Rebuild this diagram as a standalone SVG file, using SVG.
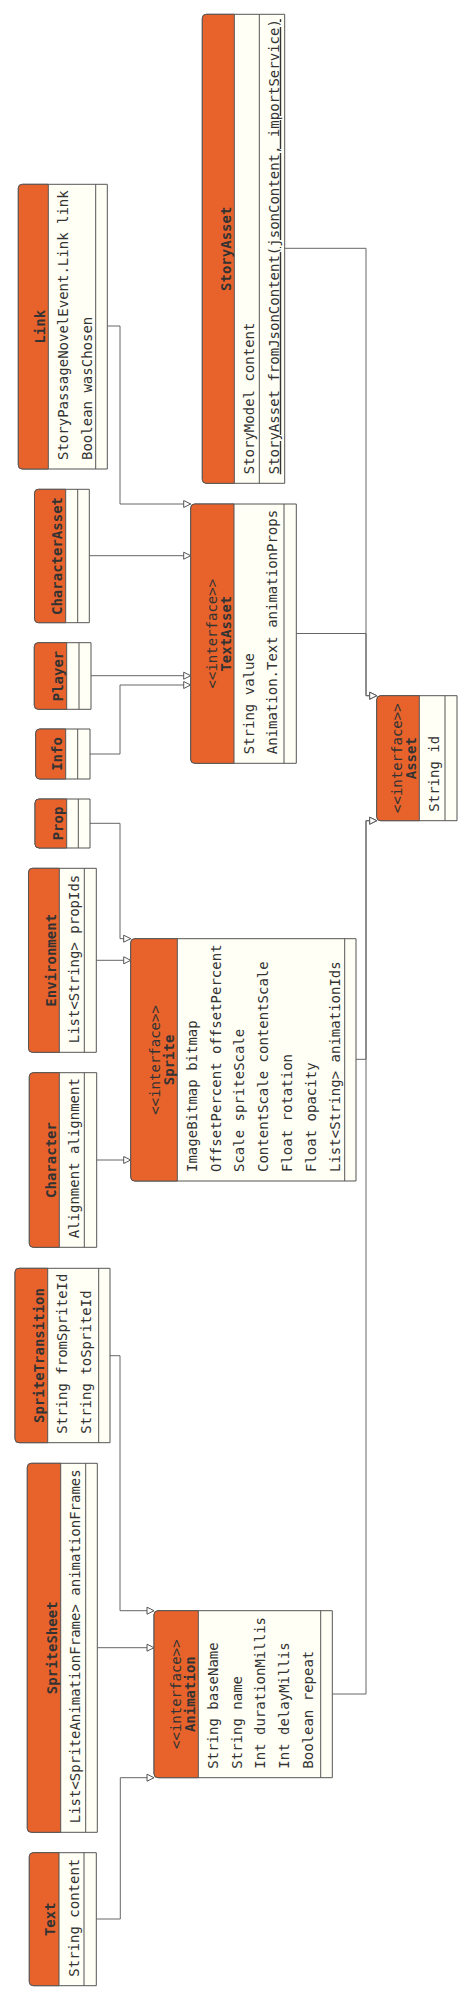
<svg xmlns="http://www.w3.org/2000/svg" width="471" height="2001" viewBox="0 0 471 2001">
<style>
.box{fill:#fffff5;stroke:#555;stroke-width:1}
.hd{fill:#e8632b;stroke:#555;stroke-width:1}
.dv{stroke:#555;stroke-width:1;fill:none}
.t{font-family:"DejaVu Sans Mono","Liberation Mono",monospace;font-size:14px;fill:#333}
.b{font-weight:bold}
.m{text-anchor:middle}
.u{text-decoration:underline}
.edge{fill:none;stroke:#666;stroke-width:1;marker-end:url(#tri)}
</style>
<defs>
<marker id="tri" markerUnits="userSpaceOnUse" markerWidth="10" markerHeight="10" refX="8" refY="4.5" orient="auto">
<path d="M1,1 L8,4.5 L1,8 Z" fill="#fff" stroke="#555" stroke-width="1"/>
</marker>
</defs>
<rect width="471" height="2001" fill="#fff"/>
<g id="connectors">
<path class="edge" d="M107.3,326 H120 V504 H190.7"/>
<path class="edge" d="M89.3,555.7 H190.7"/>
<path class="edge" d="M91,675.7 H190.7"/>
<path class="edge" d="M90,754 H120 V685 H190.7"/>
<path class="edge" d="M284.7,248.3 H366 V695.7 H376.7"/>
<path class="edge" d="M296.3,633.5 H366 V695.7 H376.7"/>
<path class="edge" d="M356,1059.3 H366 V820.7 H376.7"/>
<path class="edge" d="M332.3,1694 H366 V820.7 H376.7"/>
<path class="edge" d="M90,823.3 H120 V938.7 H130.7"/>
<path class="edge" d="M96.3,960.3 H130.7"/>
<path class="edge" d="M96.7,1160 H130.7"/>
<path class="edge" d="M110,1355.7 H120 V1610.7 H154"/>
<path class="edge" d="M97.3,1647.7 H154"/>
<path class="edge" d="M96.3,1919 H120.3 V1777.7 H154"/>
</g>

<g id="StoryAsset">
<path class="box" d="M206.3,14.3 H284.7 V483.3 H206.3 Q202.3,483.3 202.3,479.3 V18.3 Q202.3,14.3 206.3,14.3 Z"/>
<path class="hd" d="M234.3,14.3 H206.3 Q202.3,14.3 202.3,18.3 V479.3 Q202.3,483.3 206.3,483.3 H234.3 Z"/>
<line class="dv" x1="259.3" y1="14.3" x2="259.3" y2="483.3"/>
<text class="t b m" transform="translate(230.5,248.8) rotate(-90)">StoryAsset</text>
<text class="t" transform="translate(253.8,474.3) rotate(-90)">StoryModel content</text>
<text class="t u" transform="translate(278.8,474.3) rotate(-90)">StoryAsset fromJsonContent(jsonContent, importService)</text>
</g>

<g id="Link">
<path class="box" d="M22.3,184.3 H107.3 V469 H22.3 Q18.3,469 18.3,465 V188.3 Q18.3,184.3 22.3,184.3 Z"/>
<path class="hd" d="M48.3,184.3 H22.3 Q18.3,184.3 18.3,188.3 V465 Q18.3,469 22.3,469 H48.3 Z"/>
<line class="dv" x1="95.7" y1="184.3" x2="95.7" y2="469"/>
<text class="t b m" transform="translate(44.5,326.7) rotate(-90)">Link</text>
<text class="t" transform="translate(67.8,460) rotate(-90)">StoryPassageNovelEvent.Link link</text>
<text class="t" transform="translate(91.6,460) rotate(-90)">Boolean wasChosen</text>
</g>

<g id="CharacterAsset">
<path class="box" d="M38.5,489.3 H89.3 V622.7 H38.5 Q34.5,622.7 34.5,618.7 V493.3 Q34.5,489.3 38.5,489.3 Z"/>
<path class="hd" d="M65.7,489.3 H38.5 Q34.5,489.3 34.5,493.3 V618.7 Q34.5,622.7 38.5,622.7 H65.7 Z"/>
<line class="dv" x1="77.7" y1="489.3" x2="77.7" y2="622.7"/>
<text class="t b m" transform="translate(61.9,556) rotate(-90)">CharacterAsset</text>
</g>

<g id="Player">
<path class="box" d="M38.3,642.7 H91 V709.3 H38.3 Q34.3,709.3 34.3,705.3 V646.7 Q34.3,642.7 38.3,642.7 Z"/>
<path class="hd" d="M66.7,642.7 H38.3 Q34.3,642.7 34.3,646.7 V705.3 Q34.3,709.3 38.3,709.3 H66.7 Z"/>
<line class="dv" x1="79" y1="642.7" x2="79" y2="709.3"/>
<text class="t b m" transform="translate(62.9,676) rotate(-90)">Player</text>
</g>

<g id="Info">
<path class="box" d="M39.7,729 H90 V779 H39.7 Q35.7,779 35.7,775 V733 Q35.7,729 39.7,729 Z"/>
<path class="hd" d="M65.7,729 H39.7 Q35.7,729 35.7,733 V775 Q35.7,779 39.7,779 H65.7 Z"/>
<line class="dv" x1="77.7" y1="729" x2="77.7" y2="779"/>
<text class="t b m" transform="translate(61.9,754) rotate(-90)">Info</text>
</g>

<g id="Prop">
<path class="box" d="M39,799 H90 V848 H39 Q35,848 35,844 V803 Q35,799 39,799 Z"/>
<path class="hd" d="M66.7,799 H39 Q35,799 35,803 V844 Q35,848 39,848 H66.7 Z"/>
<line class="dv" x1="78.3" y1="799" x2="78.3" y2="848"/>
<text class="t b m" transform="translate(62.9,823.5) rotate(-90)">Prop</text>
</g>

<g id="TextAsset">
<path class="box" d="M194.7,504 H296.3 V763.3 H194.7 Q190.7,763.3 190.7,759.3 V508 Q190.7,504 194.7,504 Z"/>
<path class="hd" d="M234,504 H194.7 Q190.7,504 190.7,508 V759.3 Q190.7,763.3 194.7,763.3 H234 Z"/>
<line class="dv" x1="284" y1="504" x2="284" y2="763.3"/>
<text class="t m" transform="translate(216.5,633.7) rotate(-90)">&lt;&lt;interface&gt;&gt;</text>
<text class="t b m" transform="translate(230.5,633.7) rotate(-90)">TextAsset</text>
<text class="t" transform="translate(253.5,754.3) rotate(-90)">String value</text>
<text class="t" transform="translate(277.3,754.3) rotate(-90)">Animation.Text animationProps</text>
</g>

<g id="Asset">
<path class="box" d="M380.7,695.7 H457 V820.7 H380.7 Q376.7,820.7 376.7,816.7 V699.7 Q376.7,695.7 380.7,695.7 Z"/>
<path class="hd" d="M419.3,695.7 H380.7 Q376.7,695.7 376.7,699.7 V816.7 Q376.7,820.7 380.7,820.7 H419.3 Z"/>
<line class="dv" x1="445" y1="695.7" x2="445" y2="820.7"/>
<text class="t m" transform="translate(401.8,758.2) rotate(-90)">&lt;&lt;interface&gt;&gt;</text>
<text class="t b m" transform="translate(415.8,758.2) rotate(-90)">Asset</text>
<text class="t" transform="translate(438.8,811.7) rotate(-90)">String id</text>
</g>

<g id="Environment">
<path class="box" d="M32.5,868.3 H96.3 V1052.3 H32.5 Q28.5,1052.3 28.5,1048.3 V872.3 Q28.5,868.3 32.5,868.3 Z"/>
<path class="hd" d="M59.3,868.3 H32.5 Q28.5,868.3 28.5,872.3 V1048.3 Q28.5,1052.3 32.5,1052.3 H59.3 Z"/>
<line class="dv" x1="84.3" y1="868.3" x2="84.3" y2="1052.3"/>
<text class="t b m" transform="translate(55.5,960.3) rotate(-90)">Environment</text>
<text class="t" transform="translate(78.8,1043.3) rotate(-90)">List&lt;String&gt; propIds</text>
</g>

<g id="Sprite">
<path class="box" d="M134.7,938.7 H356 V1181 H134.7 Q130.7,1181 130.7,1177 V942.7 Q130.7,938.7 134.7,938.7 Z"/>
<path class="hd" d="M177.3,938.7 H134.7 Q130.7,938.7 130.7,942.7 V1177 Q130.7,1181 134.7,1181 H177.3 Z"/>
<line class="dv" x1="344.7" y1="938.7" x2="344.7" y2="1181"/>
<text class="t m" transform="translate(159.8,1059.9) rotate(-90)">&lt;&lt;interface&gt;&gt;</text>
<text class="t b m" transform="translate(173.8,1059.9) rotate(-90)">Sprite</text>
<text class="t" transform="translate(196.8,1172) rotate(-90)">ImageBitmap bitmap</text>
<text class="t" transform="translate(220.6,1172) rotate(-90)">OffsetPercent offsetPercent</text>
<text class="t" transform="translate(244.4,1172) rotate(-90)">Scale spriteScale</text>
<text class="t" transform="translate(268.2,1172) rotate(-90)">ContentScale contentScale</text>
<text class="t" transform="translate(292,1172) rotate(-90)">Float rotation</text>
<text class="t" transform="translate(315.8,1172) rotate(-90)">Float opacity</text>
<text class="t" transform="translate(339.6,1172) rotate(-90)">List&lt;String&gt; animationIds</text>
</g>

<g id="Character">
<path class="box" d="M33.3,1072.7 H96.7 V1247.3 H33.3 Q29.3,1247.3 29.3,1243.3 V1076.7 Q29.3,1072.7 33.3,1072.7 Z"/>
<path class="hd" d="M59.3,1072.7 H33.3 Q29.3,1072.7 29.3,1076.7 V1243.3 Q29.3,1247.3 33.3,1247.3 H59.3 Z"/>
<line class="dv" x1="84.3" y1="1072.7" x2="84.3" y2="1247.3"/>
<text class="t b m" transform="translate(55.5,1160) rotate(-90)">Character</text>
<text class="t" transform="translate(78.8,1238.3) rotate(-90)">Alignment alignment</text>
</g>

<g id="SpriteTransition">
<path class="box" d="M19,1268.3 H110 V1442.7 H19 Q15,1442.7 15,1438.7 V1272.3 Q15,1268.3 19,1268.3 Z"/>
<path class="hd" d="M47.7,1268.3 H19 Q15,1268.3 15,1272.3 V1438.7 Q15,1442.7 19,1442.7 H47.7 Z"/>
<line class="dv" x1="98.7" y1="1268.3" x2="98.7" y2="1442.7"/>
<text class="t b m" transform="translate(43.9,1355.5) rotate(-90)">SpriteTransition</text>
<text class="t" transform="translate(67.2,1433.7) rotate(-90)">String fromSpriteId</text>
<text class="t" transform="translate(91,1433.7) rotate(-90)">String toSpriteId</text>
</g>

<g id="SpriteSheet">
<path class="box" d="M31.3,1463.3 H97.3 V1832.3 H31.3 Q27.3,1832.3 27.3,1828.3 V1467.3 Q27.3,1463.3 31.3,1463.3 Z"/>
<path class="hd" d="M60.7,1463.3 H31.3 Q27.3,1463.3 27.3,1467.3 V1828.3 Q27.3,1832.3 31.3,1832.3 H60.7 Z"/>
<line class="dv" x1="85.7" y1="1463.3" x2="85.7" y2="1832.3"/>
<text class="t b m" transform="translate(56.9,1647.8) rotate(-90)">SpriteSheet</text>
<text class="t" transform="translate(80.2,1823.3) rotate(-90)">List&lt;SpriteAnimationFrame&gt; animationFrames</text>
</g>

<g id="Animation">
<path class="box" d="M158,1610.7 H332.3 V1777.7 H158 Q154,1777.7 154,1773.7 V1614.7 Q154,1610.7 158,1610.7 Z"/>
<path class="hd" d="M198.3,1610.7 H158 Q154,1610.7 154,1614.7 V1773.7 Q154,1777.7 158,1777.7 H198.3 Z"/>
<line class="dv" x1="320.7" y1="1610.7" x2="320.7" y2="1777.7"/>
<text class="t m" transform="translate(180.8,1694.2) rotate(-90)">&lt;&lt;interface&gt;&gt;</text>
<text class="t b m" transform="translate(194.8,1694.2) rotate(-90)">Animation</text>
<text class="t" transform="translate(217.8,1768.7) rotate(-90)">String baseName</text>
<text class="t" transform="translate(241.6,1768.7) rotate(-90)">String name</text>
<text class="t" transform="translate(265.4,1768.7) rotate(-90)">Int durationMillis</text>
<text class="t" transform="translate(289.2,1768.7) rotate(-90)">Int delayMillis</text>
<text class="t" transform="translate(313,1768.7) rotate(-90)">Boolean repeat</text>
</g>

<g id="Text">
<path class="box" d="M33.3,1852.7 H96.3 V1985.7 H33.3 Q29.3,1985.7 29.3,1981.7 V1856.7 Q29.3,1852.7 33.3,1852.7 Z"/>
<path class="hd" d="M59,1852.7 H33.3 Q29.3,1852.7 29.3,1856.7 V1981.7 Q29.3,1985.7 33.3,1985.7 H59 Z"/>
<line class="dv" x1="84" y1="1852.7" x2="84" y2="1985.7"/>
<text class="t b m" transform="translate(55.2,1919.2) rotate(-90)">Text</text>
<text class="t" transform="translate(78.5,1976.7) rotate(-90)">String content</text>
</g>
</svg>
